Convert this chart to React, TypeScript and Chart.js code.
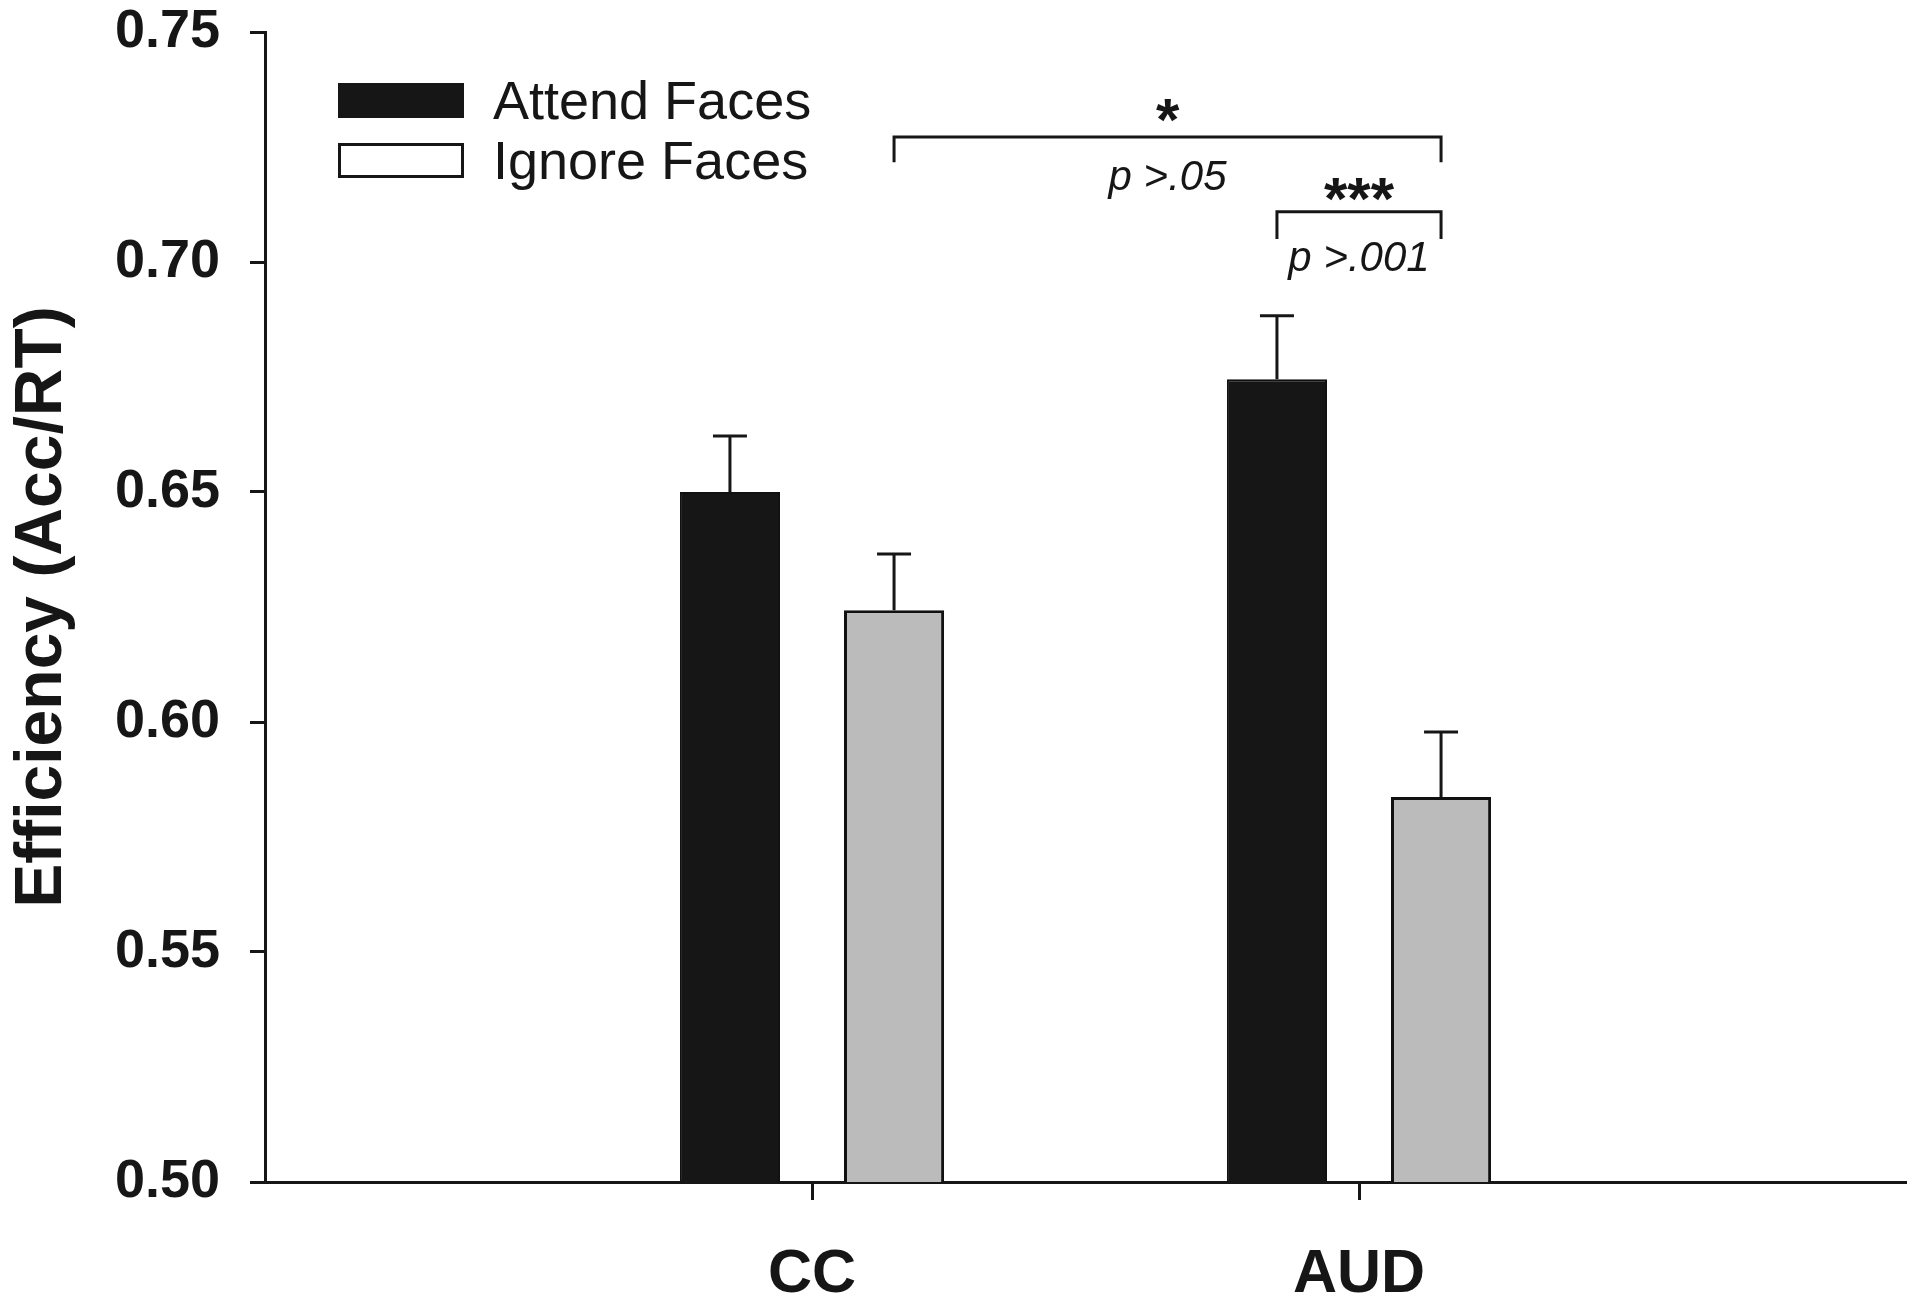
import { useEffect, useRef } from 'react';
import { Chart, registerables } from 'chart.js';

Chart.register(...registerables);

// ---------- data ----------
const categories = ['', 'CC', 'AUD', ''];
const seriesLabels = ['Attend Faces', 'Ignore Faces'];
const attendValues = [null, 0.65, 0.6745, null];
const ignoreValues = [null, 0.6243, 0.5837, null];
const attendErrors = [null, 0.0122, 0.0138, null];
const ignoreErrors = [null, 0.0122, 0.0141, null];
const yTicks = [0.5, 0.55, 0.6, 0.65, 0.7, 0.75];
const yTitle = 'Efficiency (Acc/RT)';

// significance brackets (in data units of the y axis)
const bracketFrom = [[1, 1], [0, 2]]; // [series, category index]
const bracketTo = [[1, 2], [1, 2]];
const bracketTop = [0.7272, 0.7109];
const bracketDrop = [0.7217, 0.705];
const bracketStars = ['*', '***'];
const bracketStarAt = [0.7265, 0.7094];
const bracketP = ['p >.05', 'p >.001'];
const bracketPAt = [0.7157, 0.698];

const FONT = "'Liberation Sans', Arial, Helvetica, sans-serif";
const INK = '#161616';

export default function App() {
  const ref = useRef<HTMLCanvasElement | null>(null);

  useEffect(() => {
    const canvas = ref.current;
    if (!canvas) return;
    const errors = [attendErrors, ignoreErrors];

    const overlay = {
      id: 'overlay',
      afterDatasetsDraw(chart: any) {
        const ctx = chart.ctx;
        const yScale = chart.scales.y;
        ctx.save();
        ctx.strokeStyle = INK;
        ctx.lineWidth = 3;
        ctx.lineCap = 'butt';
        // error bars
        chart.data.datasets.forEach((ds: any, di: number) => {
          const meta = chart.getDatasetMeta(di);
          ds.data.forEach((v: number | null, i: number) => {
            const e = errors[di][i];
            if (v == null || e == null) return;
            const bar = meta.data[i];
            const x = bar.x;
            const yCap = yScale.getPixelForValue(v + e);
            ctx.beginPath();
            ctx.moveTo(x, bar.y);
            ctx.lineTo(x, yCap);
            ctx.moveTo(x - 17, yCap);
            ctx.lineTo(x + 17, yCap);
            ctx.stroke();
          });
        });
        // brackets
        for (let k = 0; k < bracketTop.length; k++) {
          const a = chart.getDatasetMeta(bracketFrom[k][0]).data[bracketFrom[k][1]];
          const b = chart.getDatasetMeta(bracketTo[k][0]).data[bracketTo[k][1]];
          const yT = yScale.getPixelForValue(bracketTop[k]);
          const yD = yScale.getPixelForValue(bracketDrop[k]);
          ctx.beginPath();
          ctx.moveTo(a.x, yD);
          ctx.lineTo(a.x, yT);
          ctx.lineTo(b.x, yT);
          ctx.lineTo(b.x, yD);
          ctx.stroke();
          const cx = (a.x + b.x) / 2;
          ctx.fillStyle = INK;
          ctx.textAlign = 'center';
          ctx.textBaseline = 'alphabetic';
          ctx.font = `bold 60px ${FONT}`;
          ctx.fillText(bracketStars[k], cx, yScale.getPixelForValue(bracketStarAt[k]));
          ctx.font = `italic 42px ${FONT}`;
          ctx.fillText(bracketP[k], cx, yScale.getPixelForValue(bracketPAt[k]));
        }
        // legend
        const boxX = 338, boxW = 126, boxH = 35;
        const rows = [83, 143];
        ctx.font = `54px ${FONT}`;
        ctx.textAlign = 'left';
        ctx.textBaseline = 'middle';
        seriesLabels.forEach((lab, i) => {
          const y0 = rows[i];
          if (i === 0) {
            ctx.fillStyle = INK;
            ctx.fillRect(boxX, y0, boxW, boxH);
          } else {
            ctx.fillStyle = '#ffffff';
            ctx.fillRect(boxX, y0, boxW, boxH);
            ctx.lineWidth = 3;
            ctx.strokeStyle = INK;
            ctx.strokeRect(boxX + 1.5, y0 + 1.5, boxW - 3, boxH - 3);
          }
          ctx.fillStyle = INK;
          ctx.fillText(lab, 493, y0 + boxH / 2 + 4);
        });
        ctx.restore();
      },
    };

    const chart = new Chart(canvas, {
      type: 'bar',
      data: {
        labels: categories,
        datasets: [
          {
            label: seriesLabels[0],
            data: attendValues,
            backgroundColor: INK,
            borderColor: '#111111',
            borderWidth: 2,
          },
          {
            label: seriesLabels[1],
            data: ignoreValues,
            backgroundColor: '#bbbbbb',
            borderColor: '#111111',
            borderWidth: 3,
          },
        ],
      },
      options: {
        responsive: false,
        animation: false,
        events: [],
        layout: { padding: { left: 0, right: 14, top: 32, bottom: 0 } },
        datasets: {
          bar: { categoryPercentage: 0.6, barPercentage: 0.61 },
        },
        plugins: {
          legend: { display: false },
          tooltip: { enabled: false },
        },
        scales: {
          x: {
            type: 'category',
            offset: false,
            border: { display: true, color: INK, width: 3 },
            grid: {
              offset: false,
              drawOnChartArea: false,
              drawTicks: true,
              tickLength: 18,
              tickWidth: 3,
              tickColor: (c: any) => (categories[c.index] ? INK : 'rgba(0,0,0,0)'),
            },
            ticks: {
              autoSkip: false,
              maxRotation: 0,
              padding: 45,
              color: INK,
              font: { family: FONT, size: 61, weight: 'bold', lineHeight: 1 },
            },
            afterFit: (s: any) => {
              s.height = 124;
              s.paddingLeft = 0;
              s.paddingRight = 0;
            },
          },
          y: {
            min: 0.5,
            max: 0.75,
            border: { display: true, color: INK, width: 3 },
            grid: {
              drawOnChartArea: false,
              drawTicks: true,
              tickLength: 15,
              tickWidth: 3,
              tickColor: INK,
            },
            afterBuildTicks: (s: any) => {
              s.ticks = yTicks.map((v) => ({ value: v }));
            },
            ticks: {
              padding: 30,
              color: INK,
              font: { family: FONT, size: 54, weight: 'bold', lineHeight: 1 },
              callback: (v: any) => Number(v).toFixed(2),
            },
            title: {
              display: true,
              text: yTitle,
              color: INK,
              padding: { top: 10, bottom: 0 },
              font: { family: FONT, size: 66, weight: 'bold', lineHeight: 1 },
            },
            afterFit: (s: any) => {
              s.width = 265;
              s.paddingTop = 0;
              s.paddingBottom = 0;
            },
          },
        },
      },
      plugins: [overlay],
    } as any);

    return () => chart.destroy();
  }, []);

  return (
    <div style={{ position: 'absolute', left: 0, top: 0, width: 1920, height: 1306, background: '#ffffff' }}>
      <canvas ref={ref} width={1920} height={1306} style={{ display: 'block' }} />
    </div>
  );
}
